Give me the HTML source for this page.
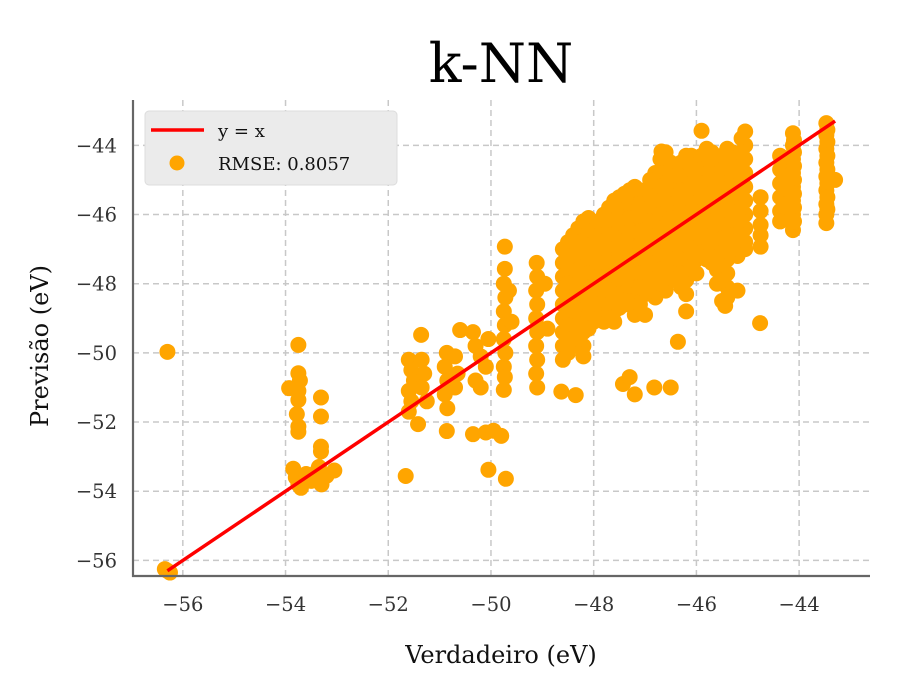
<!DOCTYPE html>
<html><head><meta charset="utf-8"><style>
html,body{margin:0;padding:0;background:#fff;}
svg{display:block;font-family:"DejaVu Serif","Liberation Serif",serif;}
</style></head><body>
<svg id="chart" width="900" height="700" viewBox="0 0 900 700" xmlns="http://www.w3.org/2000/svg">
<text x="501" y="82" text-anchor="middle" font-size="54" fill="#000">k-NN</text>
<g id="grid"></g>
<g id="points"></g>
<g id="fit"></g>
<g id="axes"></g>
<text x="501" y="663" text-anchor="middle" font-size="24" fill="#111">Verdadeiro (eV)</text>
<text transform="translate(48,346) rotate(-90)" text-anchor="middle" font-size="24" fill="#111">Previsão (eV)</text>
<g>
<rect x="145" y="111" width="252" height="74" rx="4" fill="#ebebeb" stroke="#dcdcdc"/>
<line x1="151" y1="130" x2="204" y2="130" stroke="#ff0000" stroke-width="3.5"/>
<text x="218" y="137" font-size="18" fill="#111">y = x</text>
<circle cx="177" cy="163" r="7.5" fill="#ffa500"/>
<text x="218" y="170" font-size="18" fill="#111">RMSE: 0.8057</text>
</g>
</svg>
<script>
const xTicks=[-56,-54,-52,-50,-48,-46,-44];
const yTicks=[-56,-54,-52,-50,-48,-46,-44];
const xDomain=[-56.97,-42.62];
const yDomain=[-56.45,-42.69];
const lineX=[-56.3,-43.3];
const scatterPts=[
[-56.3,-49.97],[-56.3,-56.3],[-56.25,-56.35],[-56.35,-56.25],
[-53.75,-49.77],[-53.75,-50.59],[-53.72,-50.8],[-53.93,-51.02],[-53.75,-51.1],[-53.75,-51.36],[-53.78,-51.77],[-53.75,-52.13],[-53.75,-52.28],
[-53.85,-53.35],[-53.8,-53.6],[-53.75,-53.8],[-53.6,-53.5],[-53.5,-53.7],[-53.4,-53.45],[-53.3,-53.8],[-53.2,-53.55],[-53.05,-53.4],[-53.7,-53.9],[-53.35,-53.3],
[-53.31,-51.29],[-53.31,-51.84],[-53.31,-52.71],[-53.31,-52.85],
[-51.36,-49.48],[-51.6,-50.2],[-51.55,-50.5],[-51.5,-50.8],[-51.6,-51.1],[-51.55,-51.4],[-51.6,-51.7],[-51.35,-50.2],[-51.3,-50.6],[-51.35,-51.0],[-51.25,-51.4],[-51.42,-52.06],[-51.66,-53.56],
[-50.86,-50.0],[-50.9,-50.4],[-50.85,-50.8],[-50.9,-51.2],[-50.85,-51.6],[-50.86,-52.26],[-50.6,-49.34],[-50.7,-50.1],[-50.65,-50.6],[-50.7,-51.0],
[-50.35,-49.4],[-50.3,-49.8],[-50.2,-50.1],[-50.05,-49.6],[-50.1,-50.4],[-50.3,-50.8],[-50.2,-51.0],[-50.35,-52.35],[-50.1,-52.3],[-49.95,-52.25],[-49.8,-52.4],[-50.05,-53.38],[-49.71,-53.64],
[-49.73,-46.93],[-49.73,-47.57],[-49.75,-48.0],[-49.72,-48.4],[-49.75,-48.8],[-49.73,-49.2],[-49.75,-49.6],[-49.72,-50.0],[-49.75,-50.4],[-49.73,-50.7],[-49.75,-51.07],[-49.65,-48.2],[-49.6,-49.1],
[-49.11,-47.4],[-49.1,-47.8],[-49.12,-48.2],[-49.1,-48.6],[-49.12,-49.0],[-49.1,-49.4],[-49.12,-49.8],[-49.1,-50.2],[-49.12,-50.6],[-49.1,-51.0],[-48.95,-48.0],[-48.9,-49.3],
[-48.63,-51.12],[-48.35,-51.22],[-47.43,-50.9],[-47.3,-50.7],[-47.2,-51.2],[-46.82,-51.0],[-46.5,-51.0],[-46.36,-49.68],[-44.76,-49.14],[-45.44,-48.64],[-45.5,-48.5],
[-45.9,-43.58],[-46.68,-44.18],[-43.3,-45.0]
];
const colX=[-48.6,-48.4,-48.2,-48.0,-47.8,-47.6,-47.4,-47.2,-47.0,-46.8,-46.6,-46.4,-46.2,-46.0,-45.8,-45.6,-45.4,-45.2,-45.05,-44.75,-44.37,-44.12,-43.47];
const colY=[
[-47.0,-47.4,-47.8,-48.2,-48.6,-49.0,-49.4,-49.8,-50.2],
[-46.6,-47.0,-47.4,-47.8,-48.2,-48.6,-49.0,-49.4,-49.8],
[-46.2,-46.6,-47.0,-47.4,-47.8,-48.2,-48.6,-49.0,-49.4,-49.8,-50.1],
[-46.3,-46.7,-47.1,-47.5,-47.9,-48.3,-48.7,-49.1],
[-46.0,-46.4,-46.8,-47.2,-47.6,-48.0,-48.4,-48.8,-49.1],
[-45.6,-46.0,-46.4,-46.8,-47.2,-47.6,-48.0,-48.4,-48.8,-49.1],
[-45.4,-45.8,-46.2,-46.6,-47.0,-47.4,-47.8,-48.2,-48.6],
[-45.2,-45.6,-46.0,-46.4,-46.8,-47.2,-47.6,-48.0,-48.4,-48.9],
[-45.5,-45.9,-46.3,-46.7,-47.1,-47.5,-47.9,-48.3,-48.9],
[-44.8,-45.2,-45.6,-46.0,-46.4,-46.8,-47.2,-47.6,-48.0,-48.4],
[-44.2,-44.6,-45.0,-45.4,-45.8,-46.2,-46.6,-47.0,-47.4,-47.8,-48.2],
[-44.7,-45.1,-45.5,-45.9,-46.3,-46.7,-47.1,-47.5,-47.9],
[-44.3,-44.7,-45.1,-45.5,-45.9,-46.3,-46.7,-47.1,-47.5,-47.9,-48.3,-48.8],
[-44.5,-44.9,-45.3,-45.7,-46.1,-46.5,-46.9,-47.3,-47.7],
[-44.1,-44.5,-44.9,-45.3,-45.7,-46.1,-46.5,-46.9,-47.3],
[-44.4,-44.8,-45.2,-45.6,-46.0,-46.4,-46.8,-47.2,-47.6,-48.0],
[-44.1,-44.5,-44.9,-45.3,-45.7,-46.1,-46.5,-46.9,-47.3,-47.7,-48.1,-48.4],
[-44.4,-44.8,-45.2,-45.6,-46.0,-46.4,-46.8,-47.2,-48.2],
[-43.6,-44.0,-44.4,-44.8,-45.2,-45.6,-46.0,-46.4,-46.8,-47.0],
[-45.5,-45.9,-46.3,-46.6,-46.93],
[-44.3,-44.7,-45.1,-45.5,-45.9,-46.2],
[-43.65,-44.0,-44.4,-44.8,-45.2,-45.6,-46.0,-46.45],
[-43.36,-43.7,-44.1,-44.5,-44.9,-45.3,-45.7,-46.0,-46.25]
];
const colX2=[-48.5,-48.3,-48.1,-47.9,-47.7,-47.5,-47.3,-47.1,-46.9,-46.7,-46.5,-46.3,-46.1,-45.9,-45.7,-45.5,-45.3,-45.12,-44.3,-44.1,-43.45];
const colY2=[
[-46.8,-47.2,-47.6,-48.0,-48.4,-48.8,-49.2,-49.6,-50.0],
[-46.4,-46.8,-47.2,-47.6,-48.0,-48.4,-48.8,-49.2,-49.6],
[-46.1,-46.5,-46.9,-47.3,-47.7,-48.1,-48.5,-48.9,-49.3],
[-46.2,-46.6,-47.0,-47.4,-47.8,-48.2,-48.6,-49.0],
[-45.8,-46.2,-46.6,-47.0,-47.4,-47.8,-48.2,-48.6,-49.0],
[-45.5,-45.9,-46.3,-46.7,-47.1,-47.5,-47.9,-48.3,-48.7],
[-45.3,-45.7,-46.1,-46.5,-46.9,-47.3,-47.7,-48.1,-48.5],
[-45.3,-45.7,-46.1,-46.5,-46.9,-47.3,-47.7,-48.1,-48.6],
[-45.0,-45.4,-45.8,-46.2,-46.6,-47.0,-47.4,-47.8,-48.2],
[-44.4,-44.8,-45.2,-45.6,-46.0,-46.4,-46.8,-47.2,-47.6,-48.0],
[-44.5,-44.9,-45.3,-45.7,-46.1,-46.5,-46.9,-47.3,-47.7],
[-44.5,-44.9,-45.3,-45.7,-46.1,-46.5,-46.9,-47.3,-47.7,-48.1],
[-44.3,-44.7,-45.1,-45.5,-45.9,-46.3,-46.7,-47.1,-47.5],
[-44.3,-44.7,-45.1,-45.5,-45.9,-46.3,-46.7,-47.1],
[-44.2,-44.6,-45.0,-45.4,-45.8,-46.2,-46.6,-47.0,-47.4],
[-44.3,-44.7,-45.1,-45.5,-45.9,-46.3,-46.7,-47.1,-47.5,-47.9],
[-44.2,-44.6,-45.0,-45.4,-45.8,-46.2,-46.6,-47.0],
[-43.8,-44.2,-44.6,-45.0,-45.4,-45.8,-46.2,-46.6],
[-44.5,-44.9,-45.3,-45.7],
[-43.85,-44.2,-44.6,-45.0,-45.4,-45.8,-46.2],
[-43.55,-43.9,-44.3,-44.7,-45.1,-45.5,-45.85]
];
const L=133,R=870,T=100,B=576;
const NS='http://www.w3.org/2000/svg';
function sx(v){return L+(v-xDomain[0])/(xDomain[1]-xDomain[0])*(R-L);}
function sy(v){return B-(v-yDomain[0])/(yDomain[1]-yDomain[0])*(B-T);}
function mk(tag,attrs,parent){const e=document.createElementNS(NS,tag);for(const k in attrs)e.setAttribute(k,attrs[k]);parent.appendChild(e);return e;}
const grid=document.getElementById('grid'),axes=document.getElementById('axes'),pts=document.getElementById('points'),fit=document.getElementById('fit');
xTicks.forEach(t=>{
  const g=mk('line',{x1:sx(t),x2:sx(t),y1:T,y2:B,stroke:'#c8c8c8','stroke-width':1.5,'stroke-dasharray':'6,4'},grid);
  
  
  const tx=mk('text',{x:sx(t),y:B+35,'text-anchor':'middle','font-size':19.5,fill:'#333'},axes);
  tx.textContent='\u2212'+Math.abs(t);
  
  
});
yTicks.forEach(t=>{
  const g=mk('line',{x1:L,x2:R,y1:sy(t),y2:sy(t),stroke:'#c8c8c8','stroke-width':1.5,'stroke-dasharray':'6,4'},grid);
  
  
  const tx=mk('text',{x:117,y:sy(t)+7,'text-anchor':'end','font-size':19.5,fill:'#333'},axes);
  tx.textContent='\u2212'+Math.abs(t);
  
  
});
const all=scatterPts.slice();
colX.forEach((x,i)=>colY[i].forEach(y=>all.push([x,y])));
colX2.forEach((x,i)=>colY2[i].forEach(y=>all.push([x,y])));
all.forEach(p=>{
  const c=mk('circle',{cx:sx(p[0]),cy:sy(p[1]),r:8,fill:'#ffa500'},pts);
  
  
});
const ln=mk('line',{x1:sx(lineX[0]),y1:sy(lineX[0]),x2:sx(lineX[1]),y2:sy(lineX[1]),stroke:'#ff0000','stroke-width':3.5},fit);


const ls=mk('line',{x1:L,x2:L,y1:T,y2:B+1,stroke:'#666','stroke-width':2.2},axes);


const bs=mk('line',{x1:L-1,x2:R,y1:B,y2:B,stroke:'#666','stroke-width':2.2},axes);


</script>
</body></html>
